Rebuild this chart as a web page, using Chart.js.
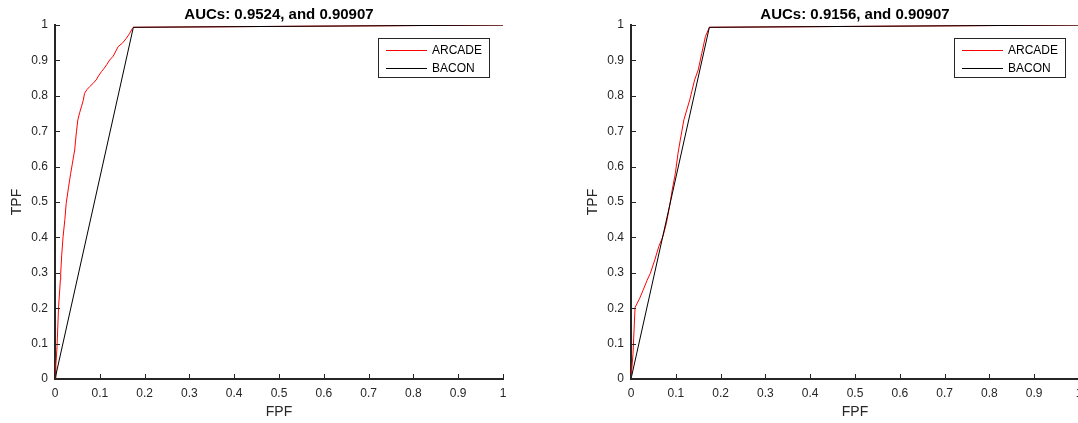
<!DOCTYPE html>
<html>
<head>
<meta charset="utf-8">
<script src="https://cdn.jsdelivr.net/npm/chart.js@4"></script>
<style>
    html, body { margin: 0; padding: 0; background: #fff; overflow: hidden; }
    #wrap { position: relative; width: 1078px; height: 423px; overflow: hidden; }
    .panel { position: absolute; top: 0; width: 576px; height: 423px; }
</style>
</head>
<body>
<div id="wrap">
    <div class="panel" style="left:0"><canvas id="roc-left" width="576" height="423"></canvas></div>
    <div class="panel" style="left:576px"><canvas id="roc-right" width="576" height="423"></canvas></div>
</div>
<script>
// tick labels (same for both axes)
const fpfTicks = ["0", "0.1", "0.2", "0.3", "0.4", "0.5", "0.6", "0.7", "0.8", "0.9", "1"];
const tpfTicks = ["0", "0.1", "0.2", "0.3", "0.4", "0.5", "0.6", "0.7", "0.8", "0.9", "1"];

const seriesNames = ["ARCADE", "BACON"];
const titles = ["AUCs: 0.9524, and 0.90907", "AUCs: 0.9156, and 0.90907"];

// left panel, ARCADE curve
const leftArcadeFpf = [0, 0.002, 0.0045, 0.008, 0.012, 0.0127, 0.015, 0.018, 0.022, 0.025, 0.030, 0.035, 0.039,
    0.042, 0.044, 0.046, 0.048, 0.051, 0.055, 0.059, 0.063, 0.066, 0.071, 0.0775, 0.085, 0.092, 0.097, 0.1036,
    0.110, 0.116, 0.122, 0.130, 0.141, 0.150, 0.159, 0.166, 0.1727, 0.1749, 1];
const leftArcadeTpf = [0, 0.04, 0.091, 0.204, 0.28, 0.299, 0.35, 0.402, 0.45, 0.496, 0.54, 0.581, 0.61,
    0.633, 0.647, 0.675, 0.70, 0.732, 0.752, 0.769, 0.787, 0.807, 0.817, 0.826, 0.835, 0.845, 0.856, 0.868,
    0.878, 0.889, 0.901, 0.912, 0.939, 0.948, 0.962, 0.975, 0.99, 0.9935, 1];

// right panel, ARCADE curve
const rightArcadeFpf = [0, 0.0045, 0.009, 0.0194, 0.027, 0.036, 0.043, 0.053, 0.062, 0.071, 0.079, 0.086,
    0.092, 0.099, 0.105, 0.110, 0.118, 0.131, 0.142, 0.150, 0.158, 0.166, 0.172, 0.1749, 1];
const rightArcadeTpf = [0, 0.072, 0.202, 0.228, 0.251, 0.279, 0.298, 0.336, 0.374, 0.402, 0.44, 0.487,
    0.534, 0.581, 0.638, 0.675, 0.732, 0.788, 0.845, 0.873, 0.92, 0.967, 0.985, 0.9935, 1];

// BACON is the same in both panels
const baconFpf = [0, 0.1749, 1];
const baconTpf = [0, 0.9935, 1];

const axisColor = "#262626";
const fontFamily = "'Liberation Sans', Arial, Helvetica, sans-serif";

function toPoints(xs, ys) {
    return xs.map((x, i) => ({ x: x, y: ys[i] }));
}

// title, inward ticks and the boxed legend
const matlabLook = {
    id: "matlabLook",
    afterDraw(chart) {
        const ctx = chart.ctx;
        const area = chart.chartArea;
        ctx.save();

        // inward tick marks
        ctx.strokeStyle = axisColor;
        ctx.lineWidth = 1;
        const xs = chart.scales.x;
        const ys = chart.scales.y;
        xs.ticks.forEach((t, i) => {
            const px = Math.round(xs.getPixelForTick(i)) + 0.5;
            ctx.beginPath();
            ctx.moveTo(px, area.bottom);
            ctx.lineTo(px, area.bottom - 5);
            ctx.stroke();
        });
        ys.ticks.forEach((t, i) => {
            const py = Math.round(ys.getPixelForTick(i)) + 0.5;
            ctx.beginPath();
            ctx.moveTo(area.left, py);
            ctx.lineTo(area.left + 5, py);
            ctx.stroke();
        });

        // title
        ctx.fillStyle = "#000";
        ctx.font = "bold 15px " + fontFamily;
        ctx.textAlign = "center";
        ctx.textBaseline = "alphabetic";
        ctx.fillText(chart.options.plugins.matlabLook.title, (area.left + area.right) / 2, 18.5);

        // legend
        const boxW = 111, boxH = 39;
        const bx = area.right - 14 - boxW;
        const by = 38.5;
        ctx.fillStyle = "#fff";
        ctx.fillRect(bx, by, boxW, boxH);
        ctx.strokeStyle = axisColor;
        ctx.lineWidth = 1;
        ctx.strokeRect(Math.round(bx) + 0.5, by, boxW, boxH);
        ctx.font = "12px " + fontFamily;
        ctx.textAlign = "left";
        ctx.textBaseline = "middle";
        chart.data.datasets.forEach((ds, i) => {
            const ry = Math.round(by + 11 + i * 18) + 0.5;
            ctx.strokeStyle = ds.borderColor;
            ctx.beginPath();
            ctx.moveTo(bx + 8, ry);
            ctx.lineTo(bx + 49, ry);
            ctx.stroke();
            ctx.fillStyle = "#000";
            ctx.fillText(ds.label, bx + 54, ry);
        });
        ctx.restore();
    },
};

function makeChart(canvasId, title, arcadeFpf, arcadeTpf) {
    const canvas = document.getElementById(canvasId);
    const config = {
        type: "line",
        data: {
            datasets: [
                {
                    label: seriesNames[0],
                    data: toPoints(arcadeFpf, arcadeTpf),
                    borderColor: "#ff0000",
                    borderWidth: 1,
                    pointRadius: 0,
                    tension: 0,
                    fill: false,
                    order: 1,
                },
                {
                    label: seriesNames[1],
                    data: toPoints(baconFpf, baconTpf),
                    borderColor: "#000000",
                    borderWidth: 1,
                    pointRadius: 0,
                    tension: 0,
                    fill: false,
                    order: 0,
                },
            ],
        },
        options: {
            responsive: false,
            animation: false,
            events: [],
            layout: { padding: { top: 25, right: 73, bottom: 0, left: 0 } },
            plugins: {
                legend: { display: false },
                tooltip: { enabled: false },
                matlabLook: { title: title },
            },
            scales: {
                x: {
                    type: "linear",
                    min: 0,
                    max: 1,
                    grid: { display: false, drawTicks: false },
                    border: { display: true, color: axisColor, width: 2 },
                    ticks: {
                        stepSize: 0.1,
                        padding: 7,
                        color: axisColor,
                        font: { family: fontFamily, size: 12 },
                        maxRotation: 0,
                        callback: (val, idx) => fpfTicks[idx],
                    },
                    title: {
                        display: true,
                        text: "FPF",
                        color: axisColor,
                        font: { family: fontFamily, size: 14 },
                        padding: { top: 0, bottom: 2 },
                    },
                    afterFit: (scale) => { scale.height = 44; },
                },
                y: {
                    type: "linear",
                    min: 0,
                    max: 1,
                    grid: { display: false, drawTicks: false },
                    border: { display: true, color: axisColor, width: 2 },
                    ticks: {
                        stepSize: 0.1,
                        padding: 7,
                        color: axisColor,
                        font: { family: fontFamily, size: 12 },
                        callback: (val, idx) => tpfTicks[idx],
                    },
                    title: {
                        display: true,
                        text: "TPF",
                        color: axisColor,
                        font: { family: fontFamily, size: 14 },
                        padding: { top: 9, bottom: 0 },
                    },
                    afterFit: (scale) => { scale.width = 55; },
                },
            },
        },
        plugins: [matlabLook],
    };
    return new Chart(canvas, config);
}

makeChart("roc-left", titles[0], leftArcadeFpf, leftArcadeTpf);
makeChart("roc-right", titles[1], rightArcadeFpf, rightArcadeTpf);
</script>
</body>
</html>
